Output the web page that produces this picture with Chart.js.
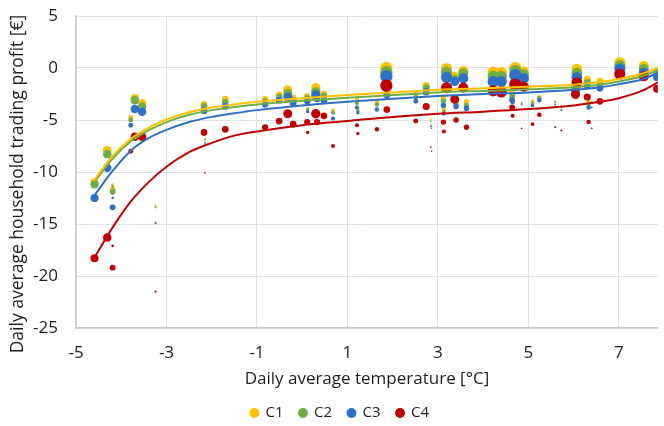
<!DOCTYPE html>
<html>
<head>
<meta charset="utf-8">
<title>Daily household trading profit</title>
<script src="https://cdn.jsdelivr.net/npm/chart.js@4.4.1/dist/chart.umd.min.js"></script>
<style>
    html, body { margin: 0; padding: 0; background: #fff; overflow: hidden; }
    #chart { display: block; }
</style>
</head>
<body>
<canvas id="chart" width="664" height="426"></canvas>
<script>
// ---- data ----
const seriesNames = ['C1', 'C2', 'C3', 'C4'];

// daily average temperature [°C] of each day
const temperatures = [
    -4.59, -4.31, -4.19, -4.19, -3.79, -3.70, -3.54, -3.24, -2.17, -2.15,
    -1.70, -0.82, -0.51, -0.32, -0.20, 0.11, 0.12, 0.30, 0.33, 0.48,
    0.68, 1.21, 1.23, 1.65, 1.86, 1.87, 2.51, 2.74, 2.84, 2.86,
    3.12, 3.13, 3.19, 3.37, 3.40, 3.56, 3.63, 4.22, 4.40, 4.64,
    4.65, 4.71, 4.85, 4.90, 5.09, 5.24, 5.59, 5.73, 6.04, 6.07,
    6.30, 6.33, 6.40, 6.58, 7.02, 7.55, 7.84
];

// daily average household trading profit [€] per case
const profitC1 = [
    -11.0, -7.9, -11.2, -11.7, -4.75, -2.9, -3.4, -13.2, -3.5, -6.8,
    -3.0, -3.0, -2.6, -2.1, -2.9, -2.7, -3.9, -1.9, -2.6, -2.5,
    -4.1, -3.0, -3.9, -3.3, 0.0, -2.3, -2.5, -1.7, -4.9, -5.5,
    -2.9, -4.0, -0.05, -0.8, -3.3, -0.3, -3.25, -0.4, -0.45, -2.4,
    -2.9, 0.0, -3.3, -0.35, -3.2, -2.8, -3.2, -3.6, -1.9, -0.1,
    -1.1, -3.3, -3.2, -1.25, 0.5, 0.2, -0.3
];
const profitC2 = [
    -11.2, -8.3, -11.4, -11.9, -5.0, -3.1, -3.7, -13.4, -3.7, -6.9,
    -3.3, -3.2, -2.8, -2.45, -3.1, -2.9, -4.0, -2.3, -2.8, -2.7,
    -4.3, -3.4, -4.1, -3.5, -0.4, -2.5, -2.8, -1.9, -5.1, -5.6,
    -3.2, -4.2, -0.4, -1.1, -3.5, -0.5, -3.6, -0.8, -0.8, -2.7,
    -3.1, -0.3, -3.4, -0.6, -3.4, -2.9, -3.3, -3.8, -2.2, -0.5,
    -1.4, -3.5, -3.4, -1.55, 0.2, -0.1, -0.6
];
const profitC3 = [
    -12.5, -9.6, -12.5, -13.4, -5.5, -3.95, -4.2, -14.9, -4.1, -7.2,
    -3.7, -3.5, -3.1, -2.8, -3.4, -3.2, -4.2, -2.6, -3.0, -3.1,
    -4.85, -3.8, -4.3, -4.0, -0.8, -2.6, -3.2, -2.3, -5.6, -5.8,
    -3.6, -4.4, -0.9, -1.3, -3.7, -1.0, -3.9, -1.3, -1.3, -3.1,
    -3.3, -0.7, -3.5, -1.0, -3.6, -3.1, -3.5, -4.05, -2.4, -0.9,
    -1.7, -3.8, -3.8, -1.95, -0.1, -0.45, -0.9
];
const profitC4 = [
    -18.3, -16.3, -17.1, -19.2, -8.0, -6.6, -6.6, -21.5, -6.2, -10.1,
    -5.9, -5.7, -5.1, -4.4, -5.4, -5.2, -6.2, -4.4, -5.2, -4.6,
    -7.5, -5.5, -6.3, -5.9, -1.7, -4.0, -5.1, -3.7, -7.6, -8.0,
    -5.2, -6.1, -1.9, -3.0, -5.0, -1.9, -5.7, -2.2, -2.3, -3.8,
    -4.6, -1.6, -5.8, -1.8, -5.4, -4.5, -5.7, -6.0, -2.55, -1.4,
    -2.8, -5.2, -5.8, -3.2, -0.6, -0.8, -2.0
];

// relative weight of each day (drives the bubble size)
const dayWeights = [
    3.6, 3.8, 1.2, 2.6, 2.2, 3.8, 3.8, 1.0, 3.0, 0.8,
    3.0, 2.8, 3.0, 4.0, 3.0, 2.8, 1.5, 4.2, 2.8, 3.0,
    1.8, 1.8, 1.5, 2.0, 5.5, 3.0, 2.2, 3.2, 0.8, 0.7,
    2.4, 1.8, 5.0, 4.0, 2.4, 4.5, 2.4, 5.0, 5.0, 2.6,
    1.8, 5.5, 0.8, 4.5, 1.6, 2.0, 0.9, 0.9, 4.0, 4.8,
    3.2, 2.0, 0.8, 3.0, 5.0, 4.5, 3.5
];

// trend lines
const trendTemperatures = [-4.6, -4.2, -3.8, -3.4, -3.0, -2.5, -2.0, -1.5, -1.0, 0, 1, 2, 3, 4, 5, 6, 6.5, 7, 7.5, 7.9];
const trendC1 = [-10.8, -8.5, -6.85, -5.75, -4.95, -4.25, -3.8, -3.5, -3.25, -2.9, -2.6, -2.35, -2.1, -1.95, -1.8, -1.6, -1.4, -1.05, -0.55, 0.1];
const trendC2 = [-11.0, -8.75, -7.1, -6.0, -5.2, -4.5, -4.05, -3.75, -3.5, -3.15, -2.85, -2.6, -2.35, -2.2, -2.05, -1.85, -1.65, -1.3, -0.8, -0.15];
const trendC3 = [-12.3, -9.95, -8.0, -6.75, -5.95, -5.2, -4.7, -4.35, -4.05, -3.6, -3.25, -2.95, -2.7, -2.5, -2.35, -2.1, -1.9, -1.55, -1.1, -0.4];
const trendC4 = [-18.3, -15.4, -12.9, -11.0, -9.5, -8.1, -7.2, -6.5, -6.1, -5.5, -5.1, -4.7, -4.4, -4.2, -3.95, -3.6, -3.3, -2.9, -2.2, -1.3];

const xTickValues = [-5, -3, -1, 1, 3, 5, 7];
const yTickValues = [-25, -20, -15, -10, -5, 0, 5];

const xTitle = 'Daily average temperature [°C]';
const yTitle = 'Daily average household trading profit [€]';

(function () {
    const COLORS = ['#FFC000', '#70AD47', '#2F6FC7', '#C00000'];
    const FONT = "'Open Sans', 'Liberation Sans', sans-serif";
    const TEXT = '#1e1e1e';
    const GRID = '#dde1e8';
    const AXIS = '#c3cad6';
    const BUBBLE_SCALE = 1.12;

    /**
     * Bubble points for one case.
     * @param {number[]} values
     */
    function toBubbles(values) {
        return temperatures.map((t, i) => ({ x: t, y: values[i], r: dayWeights[i] * BUBBLE_SCALE }));
    }

    /**
     * Points of one trend curve.
     * @param {number[]} values
     */
    function toLine(values) {
        return trendTemperatures.map((t, i) => ({ x: t, y: values[i] }));
    }

    // rotated y title, drawn by hand so Chart.js does not squeeze it to the plot height
    const yTitlePlugin = {
        id: 'yTitle',
        afterDraw(chart) {
            const ctx = chart.ctx;
            const area = chart.chartArea;
            ctx.save();
            ctx.translate(18, (area.top + area.bottom) / 2 + 12);
            ctx.rotate(-Math.PI / 2);
            ctx.font = '17.5px ' + FONT;
            ctx.fillStyle = TEXT;
            ctx.textAlign = 'center';
            ctx.textBaseline = 'middle';
            ctx.fillText(yTitle, 0, 0);
            ctx.restore();
        },
    };

    // the reference legend sits a little right of the canvas centre
    const legendShiftPlugin = {
        id: 'legendShift',
        afterLayout(chart) {
            chart.legend.left += 8;
            chart.legend.right += 8;
        },
    };

    const profits = [profitC1, profitC2, profitC3, profitC4];
    const trends = [trendC1, trendC2, trendC3, trendC4];

    const datasets = [];
    seriesNames.forEach((name, k) => {
        datasets.push({
            type: 'bubble',
            label: name,
            data: toBubbles(profits[k]),
            backgroundColor: COLORS[k],
            borderWidth: 0,
            hoverBorderWidth: 0,
            order: 4 - k + 1,
        });
    });
    seriesNames.forEach((name, k) => {
        datasets.push({
            type: 'line',
            label: name + ' trend',
            data: toLine(trends[k]),
            borderColor: COLORS[k],
            borderWidth: 2,
            pointRadius: 0,
            fill: false,
            cubicInterpolationMode: 'monotone',
            order: 0,
        });
    });

    new Chart(document.getElementById('chart').getContext('2d'), {
        type: 'bubble',
        data: { datasets: datasets },
        plugins: [yTitlePlugin, legendShiftPlugin],
        options: {
            responsive: false,
            animation: false,
            devicePixelRatio: 1,
            layout: { padding: { top: 16, right: 0, bottom: -4.5, left: 0 } },
            scales: {
                x: {
                    type: 'linear',
                    min: -5,
                    max: 7.86,
                    afterBuildTicks: (s) => { s.ticks = xTickValues.map((v) => ({ value: v })); },
                    afterFit: (s) => {
                        s.height = 61.5;
                        s.paddingLeft = 0;
                        s.paddingRight = 0;
                    },
                    grid: { color: GRID, drawTicks: false },
                    border: { color: AXIS, width: 1.5 },
                    ticks: { padding: 15, color: TEXT, font: { family: FONT, size: 17 } },
                    title: {
                        display: true,
                        text: xTitle,
                        color: TEXT,
                        font: { family: FONT, size: 17 },
                        padding: { top: 0, bottom: 0 },
                    },
                },
                y: {
                    type: 'linear',
                    min: -25,
                    max: 5,
                    afterBuildTicks: (s) => { s.ticks = yTickValues.map((v) => ({ value: v })); },
                    afterFit: (s) => {
                        s.width = 76;
                        s.paddingTop = 0;
                        s.paddingBottom = 0;
                    },
                    grid: { color: GRID, drawTicks: false },
                    border: { color: AXIS, width: 1.5 },
                    ticks: { padding: 18, color: TEXT, font: { family: FONT, size: 17 } },
                },
            },
            plugins: {
                tooltip: { enabled: false },
                legend: {
                    position: 'bottom',
                    labels: {
                        usePointStyle: true,
                        pointStyle: 'circle',
                        boxWidth: 7,
                        boxHeight: 7,
                        padding: 16,
                        color: TEXT,
                        font: { family: FONT, size: 15 },
                        filter: (item) => !item.text.includes('trend'),
                        sort: (a, b) => a.text.localeCompare(b.text),
                    },
                },
            },
        },
    });
})();
</script>
</body>
</html>
